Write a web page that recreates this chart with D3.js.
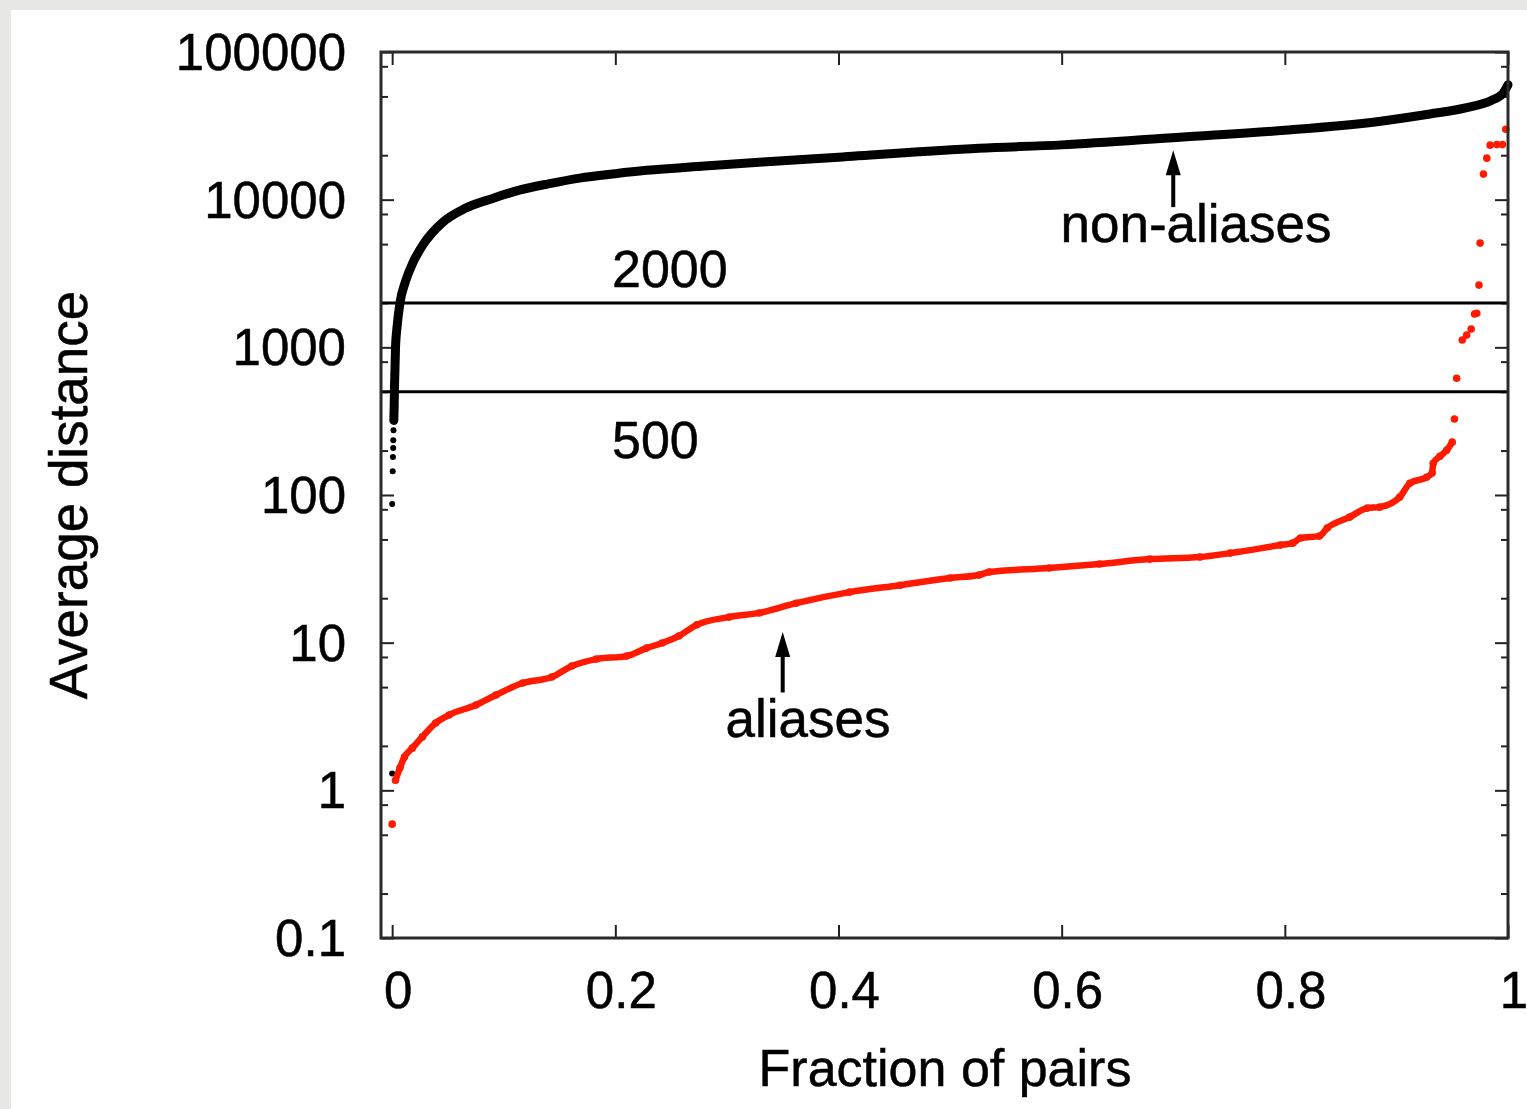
<!DOCTYPE html>
<meta charset="utf-8">
<title>Average distance vs fraction of pairs</title>
<style>
    html, body { margin: 0; padding: 0; background: #e7e7e3; }
    svg { display: block; }
    text { font-family: "Liberation Sans", Arial, Helvetica, sans-serif; fill: #000; stroke: #000; stroke-width: 0.5px; }
</style>
<script src="https://d3js.org/d3.v7.js"></script>
<body>
<script>
    // values (x = fraction of pairs, y = average distance)
    const nonAliasFrac = [0, 0, 0.0005, 0.0007, 0.0009, 0.001, 0.0012, 0.0015, 0.0018, 0.002, 0.0025, 0.003, 0.0045,
        0.007, 0.012, 0.019, 0.028, 0.045, 0.065, 0.09, 0.114, 0.14, 0.168, 0.2, 0.228, 0.28, 0.332, 0.4, 0.526,
        0.6, 0.706, 0.8, 0.886, 0.93, 0.963, 0.985, 0.995, 1.0];
    const nonAliasDist = [1.3, 87, 145, 181, 208, 235, 275, 320, 400, 500, 700, 1000, 1400,
        2000, 2800, 3800, 5000, 7000, 8700, 10200, 11600, 12800, 14000, 15000, 15800, 16900, 18000, 19400, 22300,
        23500, 26500, 29500, 34000, 38000, 42000, 47000, 52000, 60000];

    const aliasFrac = [0, 0.003, 0.007, 0.011, 0.018, 0.027, 0.039, 0.051, 0.075, 0.093, 0.117, 0.143, 0.161, 0.183,
        0.21, 0.228, 0.242, 0.257, 0.273, 0.302, 0.329, 0.362, 0.41, 0.455, 0.5, 0.526, 0.535, 0.589, 0.634, 0.679,
        0.724, 0.751, 0.796, 0.807, 0.814, 0.831, 0.838, 0.858, 0.874, 0.885, 0.903, 0.912, 0.927, 0.932, 0.933,
        0.939, 0.945, 0.95, 0.952, 0.954, 0.959, 0.963, 0.967, 0.97, 0.972, 0.974, 0.975, 0.978, 0.981, 0.984,
        0.99, 0.995, 0.998];
    const aliasDist = [0.59, 1.17, 1.42, 1.68, 1.93, 2.3, 2.86, 3.24, 3.78, 4.42, 5.33, 5.85, 6.95, 7.74,
        8.11, 9.19, 9.94, 11.1, 13.2, 14.9, 15.9, 18.5, 22.0, 24.5, 27.4, 28.7, 30.1, 32.0, 34.1, 36.8,
        38.0, 40.4, 45.8, 47.2, 51.1, 52.7, 59.7, 70.8, 81.5, 82.8, 96.8, 120, 132, 141, 164,
        183, 201, 228, 327, 618, 1120, 1210, 1330, 1680, 1700, 2640, 5080, 14900, 19100, 23400,
        23600, 23600, 30000];

    const thresholds = [2000, 500];
    const xTickValues = [0, 0.2, 0.4, 0.6, 0.8, 1];
    const xTickLabels = ["0", "0.2", "0.4", "0.6", "0.8", "1"];
    const yTickValues = [0.1, 1, 10, 100, 1000, 10000, 100000];
    const yTickLabels = ["0.1", "1", "10", "100", "1000", "10000", "100000"];
    const yMinorSteps = [2, 5, 8];

    const W = 1527, H = 1109;
    const plotLeft = 381, plotRight = 1508, plotTop = 52, plotBottom = 938;
    const fs = 51;

    const svg = d3.select("body").append("svg")
        .attr("width", W)
        .attr("height", H);

    // white sheet
    svg.append("rect")
        .attr("x", 11).attr("y", 10)
        .attr("width", W - 11).attr("height", H - 10)
        .attr("fill", "#fff");

    const x = d3.scaleLinear().domain([-0.01, 1]).range([plotLeft, plotRight]);
    const y = d3.scaleLog().domain([0.1, 100000]).range([plotBottom, plotTop]);

    const yMinor = [];
    yTickValues.slice(0, -1).forEach(d => yMinorSteps.forEach(s => yMinor.push(d * s)));

    // ticks on all four sides, pointing inward
    const tickStyle = g => {
        g.select(".domain").remove();
        g.selectAll(".tick line").attr("stroke", "#222").attr("stroke-width", 2);
    };

    svg.append("g").attr("transform", `translate(${plotLeft},0)`)
        .call(d3.axisLeft(y).tickValues(yTickValues).tickSize(-13).tickFormat(""))
        .call(tickStyle);
    svg.append("g").attr("transform", `translate(${plotLeft},0)`)
        .call(d3.axisLeft(y).tickValues(yMinor).tickSize(-7).tickFormat(""))
        .call(tickStyle);
    svg.append("g").attr("transform", `translate(${plotRight},0)`)
        .call(d3.axisRight(y).tickValues(yTickValues).tickSize(-13).tickFormat(""))
        .call(tickStyle);
    svg.append("g").attr("transform", `translate(${plotRight},0)`)
        .call(d3.axisRight(y).tickValues(yMinor).tickSize(-7).tickFormat(""))
        .call(tickStyle);
    svg.append("g").attr("transform", `translate(0,${plotBottom})`)
        .call(d3.axisBottom(x).tickValues(xTickValues).tickSize(-13).tickFormat(""))
        .call(tickStyle);
    svg.append("g").attr("transform", `translate(0,${plotTop})`)
        .call(d3.axisTop(x).tickValues(xTickValues).tickSize(-13).tickFormat(""))
        .call(tickStyle);

    // tick labels
    svg.append("g").selectAll("text")
        .data(yTickValues)
        .join("text")
        .attr("x", plotLeft - 35)
        .attr("y", d => y(d) + 18)
        .attr("text-anchor", "end")
        .style("font-size", fs + "px")
        .text((d, i) => yTickLabels[i]);

    svg.append("g").selectAll("text")
        .data(xTickValues)
        .join("text")
        .attr("x", d => x(d) + 6)
        .attr("y", 1008)
        .attr("text-anchor", "middle")
        .style("font-size", fs + "px")
        .text((d, i) => xTickLabels[i]);

    // axis titles
    svg.append("text")
        .attr("x", 945).attr("y", 1086)
        .attr("text-anchor", "middle")
        .style("font-size", "52px")
        .text("Fraction of pairs");

    svg.append("text")
        .attr("transform", "translate(87,495) rotate(-90)")
        .attr("text-anchor", "middle")
        .style("font-size", "53px")
        .text("Average distance");

    // threshold lines
    svg.append("g").selectAll("line")
        .data(thresholds)
        .join("line")
        .attr("x1", plotLeft).attr("x2", plotRight)
        .attr("y1", d => y(d)).attr("y2", d => y(d))
        .attr("stroke", "#000")
        .attr("stroke-width", 3);

    svg.append("text").attr("x", 612).attr("y", 287)
        .style("font-size", "52px").text("2000");
    svg.append("text").attr("x", 612).attr("y", 458)
        .style("font-size", "52px").text("500");

    // series
    const nonAlias = nonAliasFrac.map((f, i) => [f, nonAliasDist[i]]);
    const alias = aliasFrac.map((f, i) => [f, aliasDist[i]]);

    const line = d3.line().x(d => x(d[0])).y(d => y(d[1])).curve(d3.curveMonotoneX);

    svg.append("path")
        .datum(nonAlias.filter(d => d[1] >= 300))
        .attr("d", line)
        .attr("fill", "none")
        .attr("stroke", "#000")
        .attr("stroke-width", 9)
        .attr("stroke-linecap", "round")
        .attr("stroke-linejoin", "round");

    svg.append("g").selectAll("circle")
        .data(nonAlias)
        .join("circle")
        .attr("cx", d => x(d[0]))
        .attr("cy", d => y(d[1]))
        .attr("r", 3)
        .attr("fill", "#000");

    svg.append("path")
        .datum(alias.filter(d => d[0] > 0 && d[0] <= 0.95))
        .attr("d", line)
        .attr("fill", "none")
        .attr("stroke", "#ff1a00")
        .attr("stroke-width", 6.5)
        .attr("stroke-linecap", "round")
        .attr("stroke-linejoin", "round");

    svg.append("g").selectAll("circle")
        .data(alias)
        .join("circle")
        .attr("cx", d => x(d[0]))
        .attr("cy", d => y(d[1]))
        .attr("r", 3.8)
        .attr("fill", "#ff1a00");

    // arrows and labels
    const arrows = [
        {x: 0.7, from: 8900, to: 21600},
        {x: 0.35, from: 4.6, to: 11.8}
    ];
    const ag = svg.append("g").selectAll("g")
        .data(arrows)
        .join("g");
    ag.append("line")
        .attr("x1", d => x(d.x)).attr("x2", d => x(d.x))
        .attr("y1", d => y(d.from)).attr("y2", d => y(d.to) + 20)
        .attr("stroke", "#000")
        .attr("stroke-width", 4);
    ag.append("path")
        .attr("d", d => {
            const px = x(d.x), py = y(d.to);
            return `M${px},${py} L${px - 7.5},${py + 25} L${px + 7.5},${py + 25} Z`;
        })
        .attr("fill", "#000");

    svg.append("text").attr("x", 1196).attr("y", 242)
        .attr("text-anchor", "middle")
        .style("font-size", "53px").text("non-aliases");
    svg.append("text").attr("x", 808).attr("y", 737)
        .attr("text-anchor", "middle")
        .style("font-size", "53px").text("aliases");

    // frame
    svg.append("rect")
        .attr("x", plotLeft).attr("y", plotTop)
        .attr("width", plotRight - plotLeft).attr("height", plotBottom - plotTop)
        .attr("fill", "none")
        .attr("stroke", "#2a2a2a")
        .attr("stroke-width", 3);
</script>
</body>
